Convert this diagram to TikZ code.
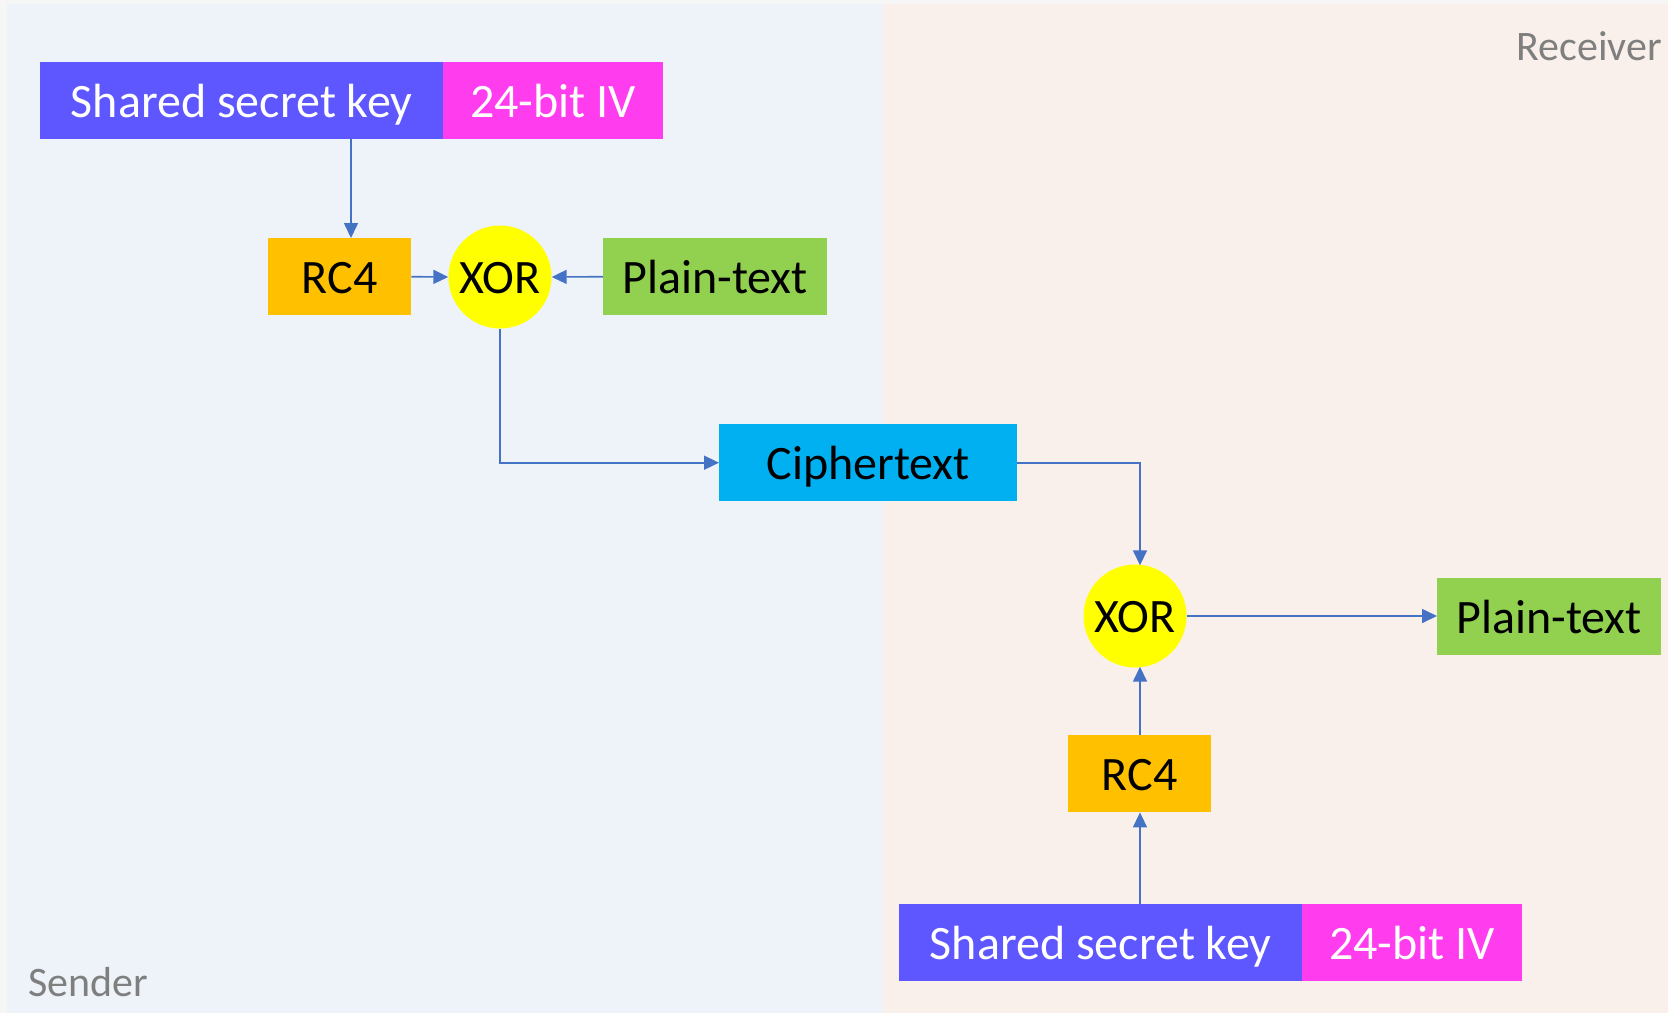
\documentclass[tikz,border=0pt]{standalone}
\usepackage{fontspec}
\setmainfont{Carlito}
\usetikzlibrary{arrows.meta,calc}

\definecolor{pagebg}{HTML}{F6F6F6}
\definecolor{senderbg}{HTML}{EEF3FA}
\definecolor{receiverbg}{HTML}{FAF0EB}
\definecolor{keyblue}{HTML}{5E57FF}
\definecolor{ivpink}{HTML}{FF3DEE}
\definecolor{rcgold}{HTML}{FFC000}
\definecolor{xoryellow}{HTML}{FFFF00}
\definecolor{plaingreen}{HTML}{92D050}
\definecolor{cipherblue}{HTML}{00B0F0}
\definecolor{flowblue}{HTML}{4472C4}
\definecolor{labelgray}{HTML}{7F7F7F}

\begin{document}
\begin{tikzpicture}[x=1pt,y=-1pt,
  box/.style={rectangle, inner sep=0pt, anchor=north west,
    minimum height=77pt, text=black, text height=33pt, text depth=0pt,
    font=\fontsize{48}{58}\selectfont},
  keybox/.style={box, fill=keyblue, text=white, minimum width=403pt},
  ivbox/.style={box, fill=ivpink, text=white, minimum width=220pt},
  rcbox/.style={box, fill=rcgold, minimum width=143pt},
  plainbox/.style={box, fill=plaingreen, minimum width=224pt},
  cipherbox/.style={box, fill=cipherblue, minimum width=298pt},
  xorcirc/.style={circle, fill=xoryellow, inner sep=0pt,
    minimum size=103pt, text=black, text height=33pt, text depth=0pt,
    font=\fontsize{48}{58}\selectfont},
  side/.style={text=labelgray, inner sep=0pt, font=\fontsize{42}{50}\selectfont},
  flow/.style={draw=flowblue, line width=1.6pt,
    -{Triangle[length=15pt,width=14pt]}}
]
% canvas and the two halves
\useasboundingbox (0,0) rectangle (1668,1013);
\fill[pagebg] (0,0) rectangle (1668,1013);
\fill[senderbg] (7,4) rectangle (883,1013);
\fill[receiverbg] (883,4) rectangle (1668,1013);

\node[side, anchor=east] (rlabel) at (1662,46) {Receiver};
\node[side, anchor=west] (slabel) at (28,982) {Sender};

% sender side
\node[keybox] (key1) at (40,62) {Shared secret key};
\node[ivbox] (iv1) at (443,62) {24-bit IV};
\node[rcbox] (rc1) at (268,238) {RC4};
\node[xorcirc] (xor1) at (500,277) {XOR};
\node[plainbox] (plain1) at (603,238) {Plain-text};
\node[cipherbox] (cipher) at (719,424) {Ciphertext};

% receiver side
\node[xorcirc] (xor2) at (1135,616) {XOR};
\node[plainbox] (plain2) at (1437,578) {Plain-text};
\node[rcbox] (rc2) at (1068,735) {RC4};
\node[keybox] (key2) at (899,904) {Shared secret key};
\node[ivbox] (iv2) at (1302,904) {24-bit IV};

% connectors
\coordinate (keydrop) at (351,0);
\coordinate (recvline) at (1140,0);
\draw[flow] (key1.south -| keydrop) -- (rc1.north -| keydrop);
\draw[flow] (rc1.east) -- (xor1.west);
\draw[flow] (plain1.west) -- (xor1.east);
\draw[flow] (xor1.south) |- (cipher.west);
\draw[flow] (cipher.east) -| ($(xor2.north -| recvline)+(0,1)$);
\draw[flow] (xor2.east) -- (plain2.west |- xor2.east);
\draw[flow] (key2.north -| recvline) -- (rc2.south -| recvline);
\draw[flow] (rc2.north -| recvline) -- ($(xor2.south -| recvline)+(0,-1)$);
\end{tikzpicture}
\end{document}
